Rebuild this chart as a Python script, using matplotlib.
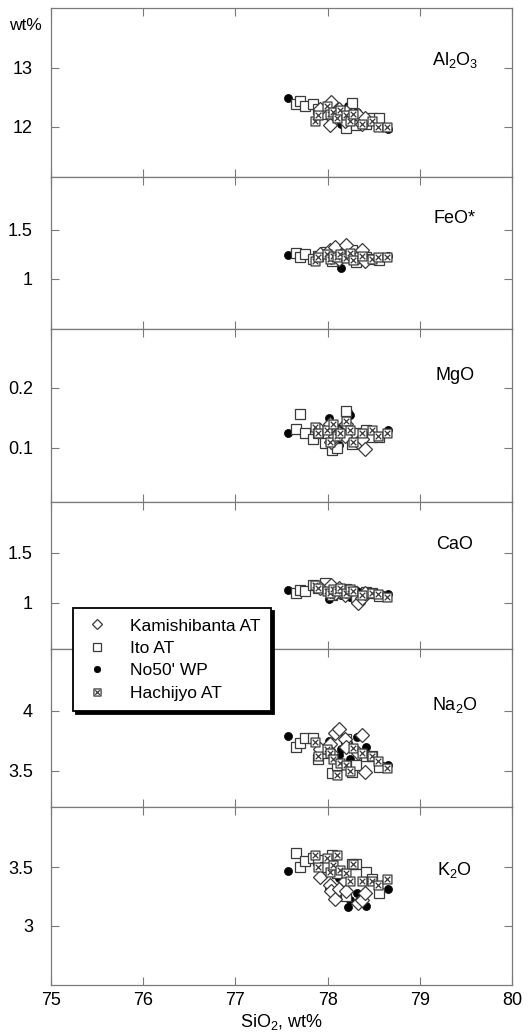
import numpy as np
import matplotlib
matplotlib.use("Agg")
import matplotlib.pyplot as plt
from matplotlib.path import Path
from matplotlib.lines import Line2D

plt.rcParams['font.family'] = ['Liberation Sans', 'DejaVu Sans']
plt.rcParams['mathtext.fontset'] = 'custom'
plt.rcParams['mathtext.rm'] = 'Liberation Sans'
plt.rcParams['mathtext.it'] = 'Liberation Sans'

# ---------------- data (wt%) ----------------
series_names = ["Kamishibanta AT", "Ito AT", "No50' WP", "Hachijyo AT"]

# Kamishibanta AT
kam_sio2 = [77.92, 78.03, 78.04, 78.08, 78.12, 78.19, 78.20, 78.33, 78.37, 78.41]
kam_al2o3 = [12.30, 12.03, 12.42, 12.20, 12.30, 12.10, 12.25, 12.20, 12.05, 12.15]
kam_feo = [1.25, 1.30, 1.22, 1.33, 1.20, 1.28, 1.35, 1.22, 1.30, 1.18]
kam_mgo = [0.13, 0.14, 0.11, 0.12, 0.125, 0.12, 0.14, 0.11, 0.115, 0.098]
kam_cao = [1.15, 1.12, 1.18, 1.10, 1.15, 1.08, 1.12, 1.00, 1.05, 1.10]
kam_na2o = [3.68, 3.72, 3.65, 3.81, 3.845, 3.76, 3.70, 3.645, 3.80, 3.49]
kam_k2o = [3.42, 3.35, 3.30, 3.23, 3.31, 3.38, 3.30, 3.19, 3.22, 3.28]

# Ito AT
ito_sio2 = [77.66, 77.70, 77.75, 77.84, 77.90, 77.97, 78.05, 78.10, 78.20, 78.26, 78.31, 78.42, 78.48, 78.56]
ito_al2o3 = [12.38, 12.44, 12.35, 12.38, 12.30, 12.22, 12.12, 12.25, 11.98, 12.40, 12.02, 12.05, 12.15, 12.15]
ito_feo = [1.26, 1.22, 1.25, 1.20, 1.23, 1.28, 1.18, 1.25, 1.22, 1.30, 1.17, 1.22, 1.20, 1.19]
ito_mgo = [0.132, 0.157, 0.125, 0.115, 0.125, 0.108, 0.096, 0.100, 0.162, 0.107, 0.125, 0.130, 0.118, 0.118]
ito_cao = [1.10, 1.13, 1.12, 1.18, 1.15, 1.20, 1.08, 1.10, 1.14, 1.12, 1.05, 1.11, 1.10, 1.07]
ito_na2o = [3.70, 3.73, 3.77, 3.77, 3.60, 3.65, 3.48, 3.55, 3.76, 3.49, 3.55, 3.62, 3.62, 3.53]
ito_k2o = [3.62, 3.505, 3.55, 3.58, 3.56, 3.50, 3.605, 3.45, 3.25, 3.53, 3.53, 3.46, 3.40, 3.28]

# No50' WP
wp_sio2 = [77.57, 78.02, 78.12, 78.15, 78.22, 78.24, 78.32, 78.42, 78.66]
wp_al2o3 = [12.48, 12.30, 12.20, 12.05, 12.35, 12.08, 12.25, 12.15, 11.95]
wp_feo = [1.24, 1.27, 1.28, 1.11, 1.25, 1.22, 1.20, 1.22, 1.23]
wp_mgo = [0.125, 0.150, 0.105, 0.135, 0.160, 0.155, 0.120, 0.117, 0.130]
wp_cao = [1.13, 1.04, 1.12, 1.08, 1.10, 1.06, 1.12, 1.09, 1.09]
wp_na2o = [3.79, 3.75, 3.63, 3.68, 3.73, 3.60, 3.78, 3.70, 3.55]
wp_k2o = [3.47, 3.32, 3.41, 3.25, 3.16, 3.22, 3.28, 3.17, 3.31]

# Hachijyo AT
hac_sio2 = [77.86, 77.90, 77.99, 78.03, 78.06, 78.10, 78.13, 78.20, 78.24, 78.28, 78.37, 78.48, 78.55, 78.64]
hac_al2o3 = [12.10, 12.20, 12.35, 12.22, 12.25, 12.15, 12.28, 12.20, 12.10, 12.22, 12.05, 12.10, 12.00, 12.00]
hac_feo = [1.18, 1.22, 1.25, 1.20, 1.23, 1.22, 1.25, 1.21, 1.27, 1.19, 1.23, 1.20, 1.22, 1.22]
hac_mgo = [0.135, 0.125, 0.13, 0.11, 0.14, 0.12, 0.125, 0.145, 0.13, 0.11, 0.125, 0.13, 0.12, 0.125]
hac_cao = [1.18, 1.15, 1.12, 1.10, 1.14, 1.12, 1.15, 1.10, 1.14, 1.12, 1.08, 1.10, 1.09, 1.06]
hac_na2o = [3.74, 3.62, 3.68, 3.65, 3.60, 3.465, 3.56, 3.55, 3.50, 3.69, 3.645, 3.62, 3.58, 3.52]
hac_k2o = [3.605, 3.50, 3.58, 3.46, 3.52, 3.605, 3.48, 3.45, 3.38, 3.53, 3.38, 3.38, 3.35, 3.40]

panel_labels = ["Al$_2$O$_3$", "FeO*", "MgO", "CaO", "Na$_2$O", "K$_2$O"]
y_limits = [(11.14, 14.02), (0.49, 2.04), (0.01, 0.298), (0.54, 2.01), (3.195, 4.514), (2.49, 4.014)]
y_ticks = [[12, 13], [1, 1.5], [0.1, 0.2], [1, 1.5], [3.5, 4], [3, 3.5]]
y_ticklabels = [["12", "13"], ["1", "1.5"], ["0.1", "0.2"], ["1", "1.5"], ["3.5", "4"], ["3", "3.5"]]
x_ticks = [75, 76, 77, 78, 79, 80]
x_ticklabels = ["75", "76", "77", "78", "79", "80"]

kam = [kam_al2o3, kam_feo, kam_mgo, kam_cao, kam_na2o, kam_k2o]
ito = [ito_al2o3, ito_feo, ito_mgo, ito_cao, ito_na2o, ito_k2o]
wp = [wp_al2o3, wp_feo, wp_mgo, wp_cao, wp_na2o, wp_k2o]
hac = [hac_al2o3, hac_feo, hac_mgo, hac_cao, hac_na2o, hac_k2o]

# ---------------- styling ----------------
W, H = 531, 1035
fig = plt.figure(figsize=(W / 100, H / 100), dpi=100)

spine_col = '#7a7a7a'
mk_edge = '#3a3a3a'

# square with an X inside
verts = [(-0.5, -0.5), (0.5, -0.5), (0.5, 0.5), (-0.5, 0.5), (-0.5, -0.5),
         (-0.32, -0.32), (0.32, 0.32), (-0.32, 0.32), (0.32, -0.32)]
codes = [Path.MOVETO, Path.LINETO, Path.LINETO, Path.LINETO, Path.CLOSEPOLY,
         Path.MOVETO, Path.LINETO, Path.MOVETO, Path.LINETO]
boxx = Path(verts, codes)

style_kam = dict(marker='D', ms=6.8, mfc='white', mec=mk_edge, mew=0.9, ls='none')
style_ito = dict(marker='s', ms=7.6, mfc='white', mec=mk_edge, mew=0.9, ls='none')
style_wp = dict(marker='o', ms=5.8, mfc='black', mec='black', mew=0.5, ls='none')
style_hac = dict(marker=boxx, ms=6.4, mfc='white', mec=mk_edge, mew=0.9, ls='none')

left_px, right_px = 51, 512
bounds_px = [(8, 177), (177, 329), (329, 501.7), (501.7, 649), (649, 807.3), (807.3, 985)]
label_pos = [0.69, 0.73, 0.733, 0.71, 0.645, 0.646]

axes = []
for i, (tpx, bpx) in enumerate(bounds_px):
    ax = fig.add_axes([left_px / W, 1 - bpx / H, (right_px - left_px) / W, (bpx - tpx) / H])
    axes.append(ax)
    ax.plot(wp_sio2, wp[i], **style_wp)
    ax.plot(ito_sio2, ito[i], **style_ito)
    ax.plot(kam_sio2, kam[i], **style_kam)
    ax.plot(hac_sio2, hac[i], **style_hac)
    ax.set_xlim(75, 80)
    ax.set_ylim(*y_limits[i])
    ax.set_xticks(x_ticks)
    ax.set_yticks(y_ticks[i])
    ax.set_yticklabels(y_ticklabels[i])
    if i == len(bounds_px) - 1:
        ax.set_xticklabels(x_ticklabels)
    else:
        ax.set_xticklabels([])
    ax.tick_params(axis='both', direction='in', length=6, width=0.8, color=spine_col,
                   top=True, right=True, labelsize=13, labelcolor='black')
    ax.tick_params(axis='y', pad=13)
    ax.tick_params(axis='x', pad=5)
    for s in ax.spines.values():
        s.set_color(spine_col)
        s.set_linewidth(0.9)
    ax.text(0.876, label_pos[i], panel_labels[i], transform=ax.transAxes,
            ha='center', va='center', fontsize=13)

axes[-1].set_xlabel("SiO$_2$, wt%", fontsize=13, labelpad=2)
fig.text(25 / W, 1 - 26 / H, "wt%", ha='center', va='center', fontsize=12.5)

handles = [Line2D([], [], **style_kam), Line2D([], [], **style_ito),
           Line2D([], [], **style_wp), Line2D([], [], **style_hac)]
leg = fig.legend(handles, series_names, loc='upper left',
                 bbox_to_anchor=(73 / W, 1 - 608 / H), borderaxespad=0,
                 fontsize=12.5, frameon=True, fancybox=False, framealpha=1,
                 edgecolor='black', markerscale=0.8, handlelength=1.6,
                 handletextpad=1.1, labelspacing=0.42, borderpad=0.6,
                 shadow={'color': 'black', 'alpha': 1, 'ox': 2, 'oy': -2})
leg.get_frame().set_linewidth(1.3)

fig.savefig("out.png", dpi=100)
